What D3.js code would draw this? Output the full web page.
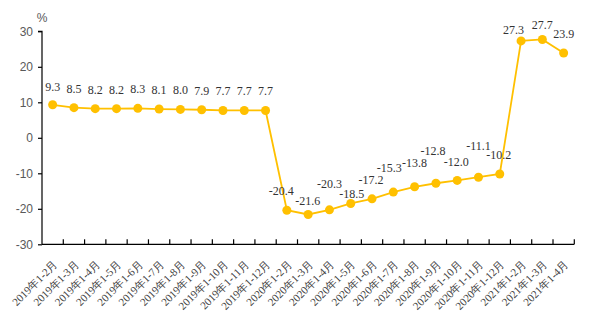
<!DOCTYPE html>
<html>
<head>
<meta charset="utf-8">
<script src="https://cdn.jsdelivr.net/npm/d3@7"></script>
<style>
  body { margin: 0; background: #fff; }
  svg { display: block; }
</style>
</head>
<body>
<svg id="chart" width="590" height="326"></svg>
<script>
// Cumulative year-on-year growth, %
const categories = [
  "2019年1-2月", "2019年1-3月", "2019年1-4月", "2019年1-5月", "2019年1-6月",
  "2019年1-7月", "2019年1-8月", "2019年1-9月", "2019年1-10月", "2019年1-11月",
  "2019年1-12月", "2020年1-2月", "2020年1-3月", "2020年1-4月", "2020年1-5月",
  "2020年1-6月", "2020年1-7月", "2020年1-8月", "2020年1-9月", "2020年1-10月",
  "2020年1-11月", "2020年1-12月", "2021年1-2月", "2021年1-3月", "2021年1-4月"
];
const growth = [
  9.3, 8.5, 8.2, 8.2, 8.3, 8.1, 8.0, 7.9, 7.7, 7.7, 7.7,
  -20.4, -21.6, -20.3, -18.5, -17.2, -15.3, -13.8, -12.8, -12.0, -11.1, -10.2,
  27.3, 27.7, 23.9
];
const yTicks = [-30, -20, -10, 0, 10, 20, 30];

// Value-label placement relative to each point (dx, dy of the label centre),
// staggered so neighbouring labels don't collide.
const labelShift = [
  [0, -18], [0, -19], [0, -19], [0, -19], [0, -19], [0, -19], [0, -19], [0, -19], [0, -19], [0, -19], [0, -19],
  [-5.5, -19], [-0.5, -13], [0, -25.5], [1, -9], [-1, -19], [-4, -24], [0, -23.5], [-3, -32], [-1, -18], [0, -31], [-1, -19],
  [-7.5, -10.5], [0, -14], [0, -19]
];

const svg = d3.select("#chart");
const plotLeft = 42, plotRight = 574.3, plotTop = 31.3, plotBottom = 244.3;

const x = d3.scaleBand().domain(categories).range([plotLeft, plotRight]).padding(0);
const y = d3.scaleLinear().domain([-30, 30]).range([plotBottom, plotTop]);

const lineColor = "#FFC000";

// Y axis (plain hyphen for negatives)
const yAxis = d3.axisLeft(y).tickValues(yTicks).tickSize(4).tickPadding(5).tickFormat(d => String(d));
const gy = svg.append("g").attr("transform", `translate(${plotLeft},0)`).call(yAxis);
gy.select(".domain").attr("stroke", "#000").attr("stroke-width", 1.2).attr("d", `M-4,${plotTop}H0V${plotBottom}`);
gy.selectAll(".tick line").attr("stroke", "#000").attr("stroke-width", 1.2);
gy.selectAll(".tick text")
  .attr("fill", "#595959")
  .style("font-family", "'Liberation Sans', Arial, sans-serif")
  .style("font-size", "12px");

svg.append("text")
  .attr("x", plotLeft).attr("y", 21.5)
  .attr("text-anchor", "middle")
  .attr("fill", "#595959")
  .style("font-family", "'Liberation Sans', Arial, sans-serif")
  .style("font-size", "12px")
  .text("%");

// X axis: baseline with inward ticks at category boundaries
const gx = svg.append("g");
gx.append("line")
  .attr("x1", plotLeft).attr("x2", plotRight)
  .attr("y1", plotBottom).attr("y2", plotBottom)
  .attr("stroke", "#000").attr("stroke-width", 1.2);
const boundaries = categories.map(c => x(c)).concat([x(categories[categories.length - 1]) + x.bandwidth()]);
gx.selectAll("line.tick").data(boundaries.slice(1)).join("line")
  .attr("class", "tick")
  .attr("x1", d => d).attr("x2", d => d)
  .attr("y1", plotBottom).attr("y2", plotBottom - 5)
  .attr("stroke", "#000").attr("stroke-width", 1.2);

gx.selectAll("text").data(categories).join("text")
  .attr("transform", d => `translate(${x(d) + x.bandwidth() / 2 + 5.5},265) rotate(-45)`)
  .attr("text-anchor", "end")
  .attr("fill", "#404040")
  .style("font-family", "'Liberation Serif', 'Times New Roman', serif")
  .style("font-size", "11px")
  .text(d => d);

// Series line and markers
const cx = (d, i) => x(categories[i]) + x.bandwidth() / 2;
const line = d3.line().x(cx).y(d => y(d));

svg.append("path")
  .datum(growth)
  .attr("d", line)
  .attr("fill", "none")
  .attr("stroke", lineColor)
  .attr("stroke-width", 1.8);

svg.selectAll("circle.pt").data(growth).join("circle")
  .attr("class", "pt")
  .attr("cx", cx)
  .attr("cy", d => y(d))
  .attr("r", 4.5)
  .attr("fill", lineColor);

// Value labels
svg.selectAll("text.val").data(growth).join("text")
  .attr("class", "val")
  .attr("x", (d, i) => cx(d, i) + labelShift[i][0])
  .attr("y", (d, i) => y(d) + labelShift[i][1] + 4)
  .attr("text-anchor", "middle")
  .attr("fill", "#333")
  .style("font-family", "'Liberation Serif', 'Times New Roman', serif")
  .style("font-size", "12px")
  .text(d => d.toFixed(1));
</script>
</body>
</html>
